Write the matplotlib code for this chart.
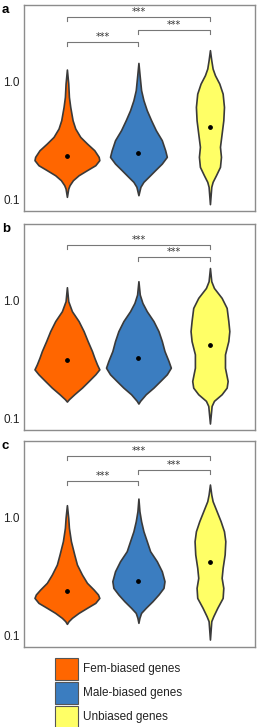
import numpy as np
import matplotlib
matplotlib.use('Agg')
import matplotlib.pyplot as plt
from matplotlib.patches import Rectangle

plt.rcParams['font.family'] = ['Liberation Sans', 'DejaVu Sans']

GROUPS = ['Fem-biased genes', 'Male-biased genes', 'Unbiased genes']
COLORS = ['#ff6600', '#3b7dc0', '#ffff66']
PANELS = ['a', 'b', 'c']

# violin profiles: log10 expression level (bottom -> top) and density
# panel a
a_fem_log = [-0.98, -0.91, -0.881, -0.839, -0.797, -0.754, -0.712, -0.669, -0.641, -0.585, -0.528, -0.472, -0.401, -0.331, -0.218, -0.133, -0.02, 0.099]
a_fem_den = [0, 4, 8, 18, 35, 60, 85, 97, 95, 82, 60, 40, 25, 17, 10, 6, 4, 0]
a_male_log = [-0.966, -0.895, -0.853, -0.811, -0.754, -0.698, -0.641, -0.585, -0.5, -0.415, -0.331, -0.246, -0.161, -0.076, 0.037, 0.155]
a_male_den = [0, 6, 15, 30, 50, 70, 85, 80, 70, 52, 38, 25, 15, 8, 4, 0]
a_unb_log = [-1.042, -0.895, -0.853, -0.797, -0.726, -0.641, -0.556, -0.444, -0.331, -0.218, -0.105, -0.02, 0.051, 0.107, 0.178, 0.263]
a_unb_den = [0, 4, 8, 18, 30, 33, 30, 35, 40, 42, 38, 28, 15, 8, 4, 0]
# panel b
b_fem_log = [-0.859, -0.839, -0.797, -0.741, -0.685, -0.628, -0.586, -0.544, -0.487, -0.431, -0.346, -0.262, -0.177, -0.093, -0.008, 0.11]
b_fem_den = [0, 6, 22, 45, 65, 85, 97, 90, 82, 75, 62, 50, 35, 15, 4, 0]
b_male_log = [-0.876, -0.853, -0.797, -0.741, -0.685, -0.628, -0.572, -0.515, -0.431, -0.346, -0.262, -0.177, -0.093, -0.023, 0.048, 0.161]
b_male_den = [0, 5, 22, 45, 65, 85, 97, 90, 78, 70, 60, 45, 25, 12, 4, 0]
b_unb_log = [-1.045, -0.896, -0.853, -0.797, -0.741, -0.685, -0.572, -0.459, -0.346, -0.262, -0.177, -0.065, 0.02, 0.104, 0.161, 0.273]
b_unb_den = [0, 5, 12, 35, 50, 53, 45, 45, 55, 58, 55, 50, 35, 12, 4, 0]
# panel c
c_fem_log = [-0.904, -0.881, -0.853, -0.811, -0.768, -0.726, -0.684, -0.655, -0.613, -0.556, -0.486, -0.401, -0.316, -0.203, -0.09, -0.006, 0.102]
c_fem_den = [0, 5, 15, 35, 60, 85, 97, 93, 80, 60, 45, 30, 22, 12, 6, 4, 0]
c_male_log = [-0.895, -0.853, -0.811, -0.768, -0.712, -0.655, -0.599, -0.542, -0.458, -0.373, -0.288, -0.203, -0.119, -0.034, 0.051, 0.158]
c_male_den = [0, 3, 8, 22, 42, 60, 75, 78, 70, 55, 35, 25, 15, 8, 3, 0]
c_unb_log = [-1.037, -0.881, -0.839, -0.768, -0.684, -0.599, -0.514, -0.429, -0.316, -0.203, -0.119, -0.034, 0.051, 0.136, 0.192, 0.277]
c_unb_den = [0, 4, 10, 22, 38, 40, 35, 38, 44, 46, 42, 32, 20, 8, 4, 0]

# median dots (log10)
a_mid = [-0.633, -0.605, -0.387]
b_mid = [-0.51, -0.493, -0.383]
c_mid = [-0.624, -0.54, -0.381]

# significance brackets: (left group, right group, log10 height)
a_sig = [(1, 3, 0.545), (2, 3, 0.438), (1, 2, 0.333)]
b_sig = [(1, 3, 0.470), (2, 3, 0.363)]
c_sig = [(1, 3, 0.517), (2, 3, 0.404), (1, 2, 0.305)]

profiles = {
    'a': [(a_fem_log, a_fem_den), (a_male_log, a_male_den), (a_unb_log, a_unb_den)],
    'b': [(b_fem_log, b_fem_den), (b_male_log, b_male_den), (b_unb_log, b_unb_den)],
    'c': [(c_fem_log, c_fem_den), (c_male_log, c_male_den), (c_unb_log, c_unb_den)],
}
mids = {'a': a_mid, 'b': b_mid, 'c': c_mid}
sigs = {'a': a_sig, 'b': b_sig, 'c': c_sig}

W, H = 257, 727
fig = plt.figure(figsize=(W / 100, H / 100), dpi=100)

tops = [5, 224, 441]
box_h = 206
for panel, top in zip(PANELS, tops):
    ax = fig.add_axes([24 / W, 1 - (top + box_h) / H, 231 / W, box_h / H])
    stats = []
    widths = []
    for (lg, den), m in zip(profiles[panel], mids[panel]):
        coords = 10 ** np.array(lg)
        vals = np.array(den, dtype=float)
        stats.append(dict(coords=coords, vals=vals, mean=10 ** m, median=10 ** m,
                          min=coords.min(), max=coords.max()))
        widths.append(vals.max() / 107)
    parts = ax.violin(stats, positions=[1, 2, 3], widths=widths,
                      showmeans=False, showextrema=False, showmedians=False)
    for body, col in zip(parts['bodies'], COLORS):
        body.set_facecolor(col)
        body.set_edgecolor('#3a3a3a')
        body.set_linewidth(1.2)
        body.set_alpha(1)
    ax.scatter([1, 2, 3], 10 ** np.array(mids[panel]), s=6, color='black', zorder=3)

    for x1, x2, h in sigs[panel]:
        ax.plot([x1, x1, x2, x2], 10 ** np.array([h - 0.034, h, h, h - 0.034]),
                color='#777777', lw=0.8)
        ax.annotate('***', ((x1 + x2) / 2, 10 ** h), xytext=(0, 0),
                    textcoords='offset points', ha='center', va='bottom',
                    fontsize=7, color='#333333', family='DejaVu Sans')

    ax.set_yscale('log')
    ax.set_ylim(10 ** -1.1, 10 ** 0.646)
    ax.set_xlim(0.4, 3.63)
    ax.set_yticks([0.1, 1.0])
    ax.set_yticklabels(['0.1', '1.0'])
    ax.minorticks_off()
    ax.set_xticks([])
    ax.tick_params(axis='y', length=0, pad=3, labelsize=8.5, labelcolor='#222222')
    for sp in ax.spines.values():
        sp.set_color('#8c8c8c')
        sp.set_linewidth(1)
    fig.text(2 / W, 1 - (top - 1) / H, panel, fontsize=9.5, fontweight='bold',
             ha='left', va='top')

# legend drawn as boxes + labels below the panels
for i, (label, col) in enumerate(zip(GROUPS, COLORS)):
    y0 = 658 + 24 * i
    fig.add_artist(Rectangle((55 / W, 1 - (y0 + 22) / H), 23 / W, 22 / H,
                             transform=fig.transFigure, facecolor=col,
                             edgecolor='#555555', lw=0.8))
    fig.text(83 / W, 1 - (y0 + 11) / H, label, fontsize=8.5, ha='left',
             va='center', color='#222222')

fig.savefig('out.png', dpi=100)
